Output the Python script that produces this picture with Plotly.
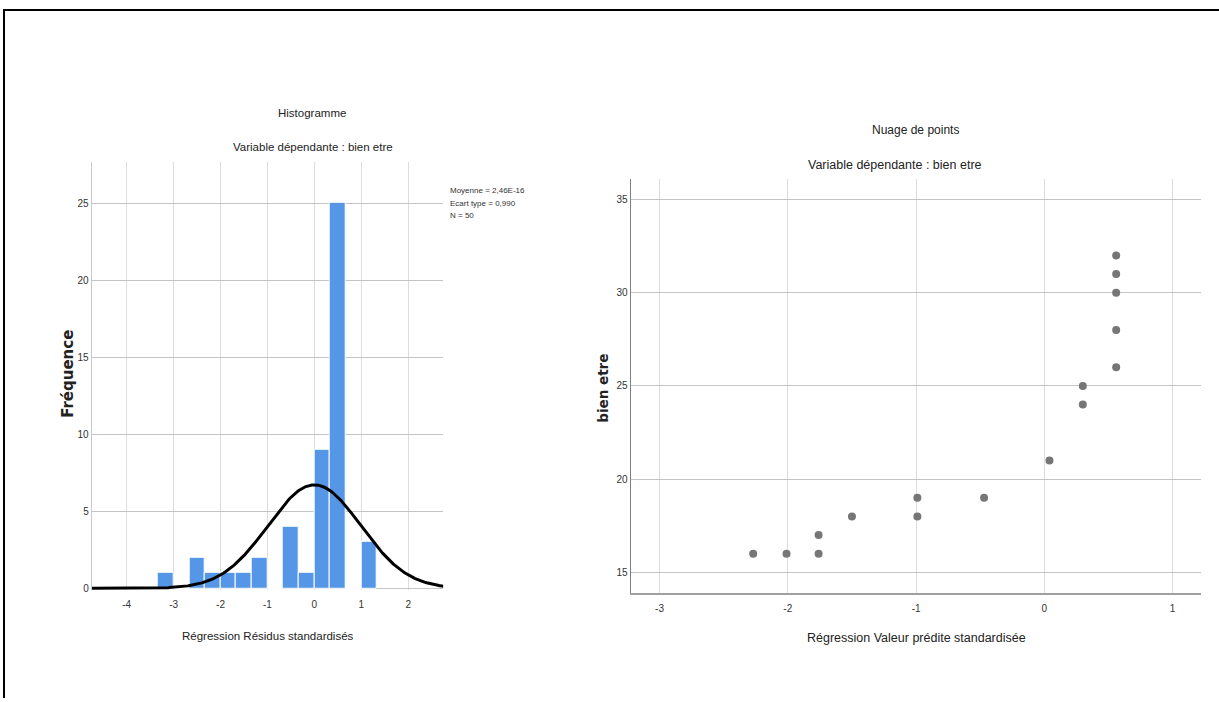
import numpy as np
import plotly.graph_objects as go

W, H = 1219, 702

# ---------------- data ----------------
# Histogram of standardized residuals
bin_start = -10 / 3
bin_width = 1 / 3
hist_counts = [1, 0, 2, 1, 1, 1, 2, 0, 4, 1, 9, 25, 0, 3]
stat_mean = 2.46e-16
stat_sd = 0.990
stat_n = 50
stat_lines = ["Moyenne = 2,46E-16", "Ecart type = 0,990", "N = 50"]
hist_xticks = [-4, -3, -2, -1, 0, 1, 2]
hist_yticks = [0, 5, 10, 15, 20, 25]

# Scatter: standardized predicted value vs bien etre
scatter_x = [-2.27, -2.01, -1.76, -1.76, -1.50, -0.99, -0.99, -0.47, 0.04,
             0.30, 0.30, 0.56, 0.56, 0.56, 0.56, 0.56]
scatter_y = [16, 16, 16, 17, 18, 18, 19, 19, 21, 24, 25, 26, 28, 30, 31, 32]
scat_xticks = [-3, -2, -1, 0, 1]
scat_yticks = [15, 20, 25, 30, 35]

# ---------------- helpers ----------------
def px_x(p):
    return p / W

def px_y(p):
    return 1 - p / H

NARROW = "Liberation Sans Narrow, Arial Narrow, Liberation Sans, Arial, sans-serif"
BOLD_WIDE = "DejaVu Sans, Verdana, sans-serif"

bar_centers = [bin_start + (i + 0.5) * bin_width for i in range(len(hist_counts))]

curve_x = np.linspace(-4.75, 2.75, 400)
curve_y = stat_n * bin_width / (stat_sd * np.sqrt(2 * np.pi)) * np.exp(
    -0.5 * ((curve_x - stat_mean) / stat_sd) ** 2)

fig = go.Figure()

fig.add_trace(go.Bar(
    x=bar_centers, y=hist_counts, width=bin_width,
    marker=dict(color="#5596e6", line=dict(color="white", width=1)),
    xaxis="x", yaxis="y", showlegend=False, hoverinfo="x+y"))

fig.add_trace(go.Scatter(
    x=curve_x, y=curve_y, mode="lines",
    line=dict(color="black", width=3),
    xaxis="x", yaxis="y", showlegend=False, hoverinfo="skip"))

fig.add_trace(go.Scatter(
    x=scatter_x, y=scatter_y, mode="markers",
    marker=dict(color="#767676", size=8),
    xaxis="x2", yaxis="y2", showlegend=False))

tickfont = dict(family=NARROW, size=10, color="#333333")

def labels(vals):
    return [str(v) for v in vals]

# histogram plot area (pixels)
hx0, hx1, hy0, hy1 = 91.7, 443.3, 162.7, 593.3
# scatter plot area (pixels)
sx0, sx1, sy0, sy1 = 630.7, 1200.7, 180.0, 596.7

fig.update_layout(
    width=W, height=H,
    margin=dict(l=0, r=0, t=0, b=0),
    paper_bgcolor="white", plot_bgcolor="white",
    bargap=0,
    xaxis=dict(domain=[px_x(hx0), px_x(hx1)], range=[-4.746, 2.747],
               tickvals=hist_xticks, ticktext=labels(hist_xticks),
               showgrid=True, gridcolor="#dcdcdc",
               zeroline=False, showline=False, tickfont=tickfont,
               ticks="outside", ticklen=5, tickcolor="rgba(0,0,0,0)",
               anchor="y"),
    yaxis=dict(domain=[px_y(hy1), px_y(hy0)], range=[-0.1, 27.68],
               tickvals=hist_yticks, ticktext=labels(hist_yticks),
               showgrid=True, gridcolor="#c4c4c4",
               zeroline=False, showline=True, linecolor="#c8c8c8", linewidth=1,
               tickfont=tickfont, anchor="x"),
    xaxis2=dict(domain=[px_x(sx0), px_x(sx1)], range=[-3.225, 1.219],
                tickvals=scat_xticks, ticktext=labels(scat_xticks),
                showgrid=True, gridcolor="#dcdcdc",
                zeroline=False, showline=True, linecolor="#a0a0a0", linewidth=2,
                tickfont=tickfont, ticks="outside", ticklen=5,
                tickcolor="rgba(0,0,0,0)", anchor="y2"),
    yaxis2=dict(domain=[px_y(sy1), px_y(sy0)], range=[13.88, 36.1],
                tickvals=scat_yticks, ticktext=labels(scat_yticks),
                showgrid=True, gridcolor="#c4c4c4",
                zeroline=False, showline=True, linecolor="#808080", linewidth=1,
                tickfont=tickfont, anchor="x2"),
)

def ann(text, x, y, size, family=NARROW, angle=0, xanchor="center", bold=False, color="#222222"):
    fig.add_annotation(
        text=f"<b>{text}</b>" if bold else text,
        x=px_x(x), y=px_y(y), xref="paper", yref="paper",
        xanchor=xanchor, yanchor="middle", showarrow=False,
        textangle=angle, font=dict(family=family, size=size, color=color))

# histogram texts
ann("Histogramme", 312, 114, 11.5)
ann("Variable dépendante : bien etre", 312.5, 148, 11.5)
ann("Régression Résidus standardisés", 267.5, 640, 11.5)
ann("Fréquence", 68, 376, 15, family=BOLD_WIDE, angle=-90, bold=True)
for i, line in enumerate(stat_lines):
    ann(line, 448, 192 + 12.5 * i, 8, xanchor="left", color="#333333")

# scatter texts
ann("Nuage de points", 915.5, 131, 12)
ann("Variable dépendante : bien etre", 895, 166, 12.5)
ann("Régression Valeur prédite standardisée", 916, 642, 12.5)
ann("bien etre", 603, 391, 13.5, family=BOLD_WIDE, angle=-90, bold=True)

# outer frame (top and left lines)
fig.add_shape(type="line", xref="paper", yref="paper",
              x0=px_x(3), x1=1, y0=px_y(10), y1=px_y(10),
              line=dict(color="black", width=2))
fig.add_shape(type="line", xref="paper", yref="paper",
              x0=px_x(4), x1=px_x(4), y0=px_y(10), y1=0,
              line=dict(color="black", width=2))

fig.write_html("out.html")
